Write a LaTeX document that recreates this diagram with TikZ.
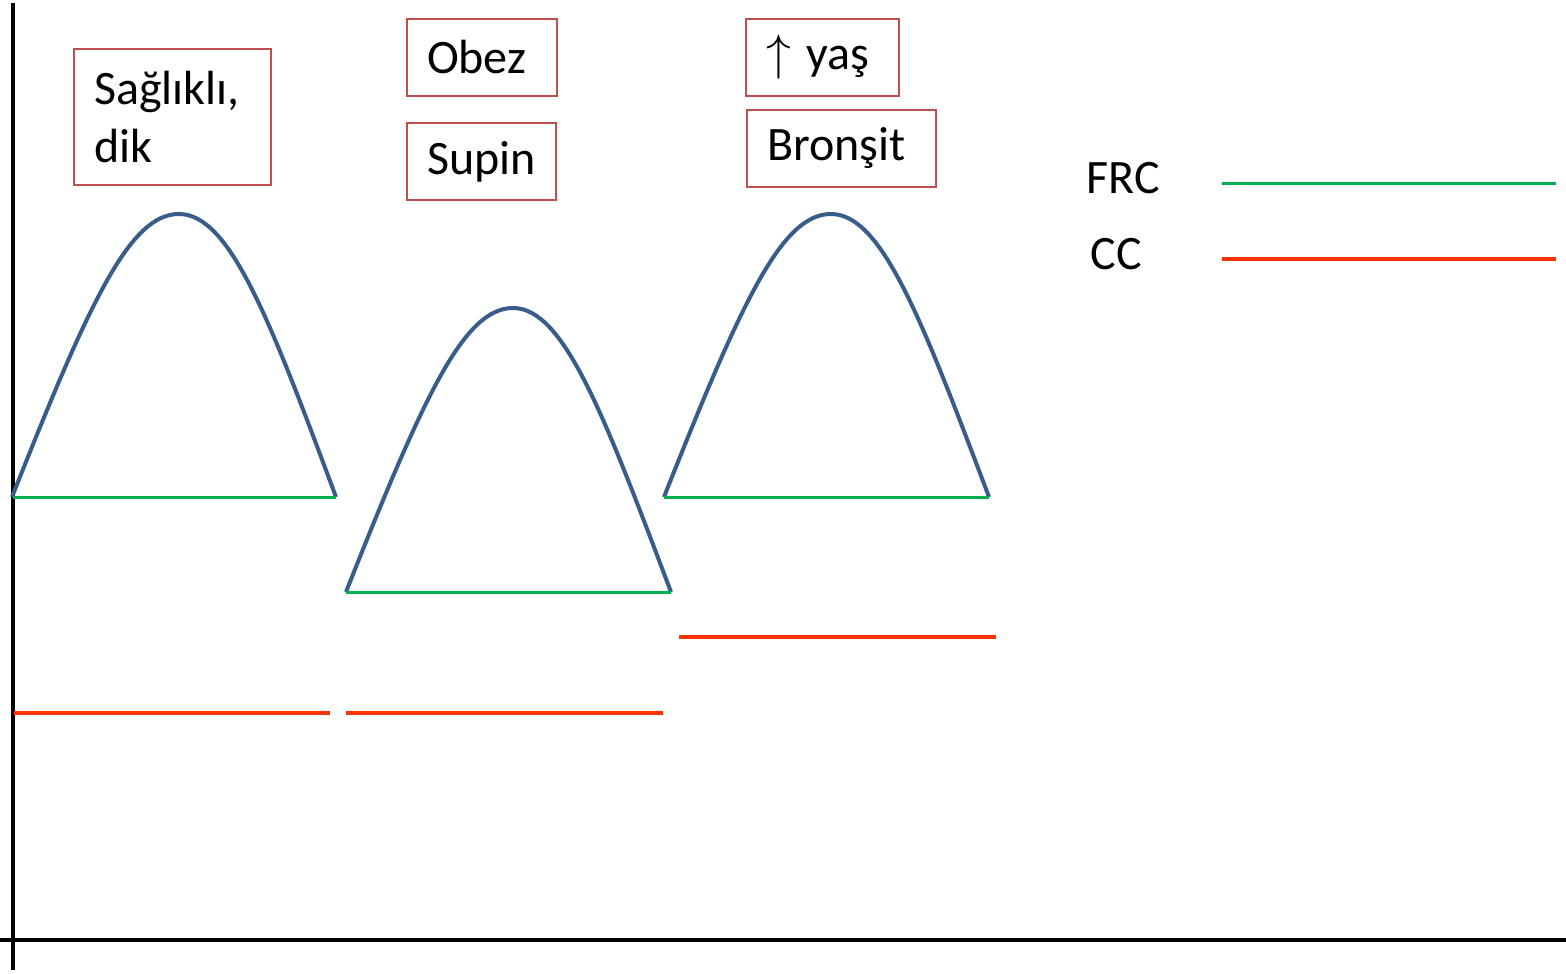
\documentclass[tikz,border=0pt]{standalone}
\usepackage{fontspec}
\setmainfont{Carlito}
\definecolor{curveblue}{HTML}{385D8A}
\definecolor{frcgreen}{HTML}{00B050}
\definecolor{ccred}{HTML}{FF3300}
\definecolor{boxred}{HTML}{C0504D}
\tikzset{
  axis/.style={line width=2pt, black},
  volcurve/.style={line width=2pt, curveblue, line join=round},
  frcline/.style={line width=1.5pt, frcgreen},
  ccline/.style={line width=2pt, ccred},
  lbl/.style={draw=boxred, line width=1pt, anchor=north west, inner xsep=10pt,
    inner ysep=0pt, align=left, font=\fontsize{24}{28.8}\selectfont},
  legendtext/.style={inner sep=0pt, font=\fontsize{24}{28.8}\selectfont},
}
\begin{document}
\begin{tikzpicture}[x=0.5pt, y=-0.5pt]
\useasboundingbox (0,0) rectangle (1566,973);

% axes
\coordinate (ytop) at (13,3);
\coordinate (ybot) at (13,970);
\coordinate (xleft) at (0,940);
\coordinate (xright) at (1566,940);
\draw[axis] (ytop) -- (ybot);
\draw[axis] (xleft) -- (xright);

% volume curves over their FRC baselines
\draw[volcurve] (12,497) .. controls (90,300) and (130,214) .. (179,214)
  .. controls (230,214) and (270,320) .. (336,497);
\draw[volcurve] (346,592) .. controls (424,395) and (464,308) .. (513,308)
  .. controls (564,308) and (604,415) .. (671,592);
\draw[volcurve] (664,497) .. controls (742,300) and (782,214) .. (831,214)
  .. controls (882,214) and (922,320) .. (989,497);

% FRC levels
\draw[frcline] (13,497) -- (336,497);
\draw[frcline] (346,592) -- (671,592);
\draw[frcline] (664,497) -- (989,497);

% closing capacity levels
\draw[ccline] (14,713) -- (330,713);
\draw[ccline] (346,713) -- (663,713);
\draw[ccline] (679,637) -- (996,637);

% condition labels
\node[lbl, minimum height=68pt, text width=78.5pt] (saglikli) at (73,48) {Sağlıklı,\\dik};
\node[lbl, minimum height=38.5pt, text width=55pt] (obez) at (406,18) {Obez};
\node[lbl, minimum height=38.5pt, text width=54.5pt] (supin) at (406,122) {Supin};
\node[lbl, minimum height=38.5pt, text width=56.5pt] (yas) at (745,18) {$\uparrow$ yaş};
\node[lbl, minimum height=38.5pt, text width=74.5pt] (bronsit) at (746,109) {Bronşit};

% legend
\node[legendtext] (frc) at (1123,178) {FRC};
\node[legendtext] (cc) at (1116,254) {CC};
\coordinate (frcA) at (1222,184);
\coordinate (frcB) at (1556,184);
\coordinate (ccA) at (1222,259);
\coordinate (ccB) at (1556,259);
\draw[frcline] (frcA) -- (frcB);
\draw[ccline] (ccA) -- (ccB);
\end{tikzpicture}
\end{document}
